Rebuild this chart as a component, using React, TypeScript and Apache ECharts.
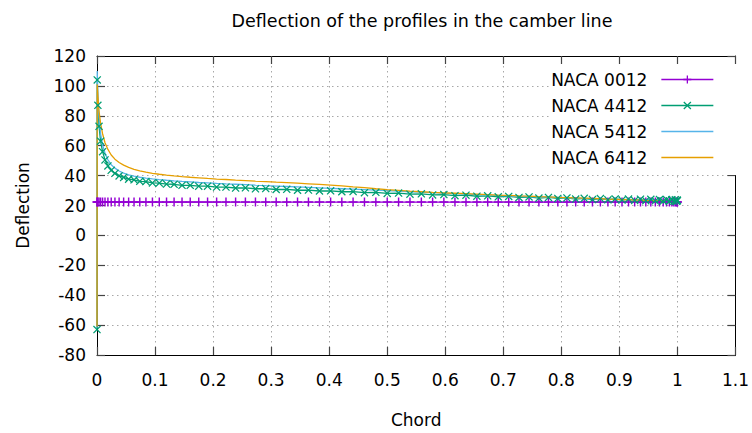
import React, { useEffect, useRef } from "react";
import * as echarts from "echarts";

// Chord positions along the camber line (0 = leading edge, 1 = trailing edge)
const chord = [
  0, 0.0004, 0.0015, 0.0035, 0.0062, 0.0096, 0.0138, 0.0188, 0.0245, 0.0309,
  0.0381, 0.0459, 0.0545, 0.0638, 0.0737, 0.0843, 0.0955, 0.1073, 0.1198, 0.1328,
  0.1465, 0.1606, 0.1753, 0.1905, 0.2061, 0.2222, 0.2388, 0.2557, 0.273, 0.2907,
  0.3087, 0.3269, 0.3455, 0.3643, 0.3833, 0.4025, 0.4218, 0.4412, 0.4608, 0.4804,
  0.5, 0.5196, 0.5392, 0.5588, 0.5782, 0.5976, 0.6167, 0.6357, 0.6545, 0.6731,
  0.6913, 0.7093, 0.727, 0.7443, 0.7613, 0.7778, 0.7939, 0.8096, 0.8247, 0.8394,
  0.8536, 0.8672, 0.8802, 0.8927, 0.9045, 0.9157, 0.9263, 0.9363, 0.9455, 0.9541,
  0.9619, 0.9691, 0.9755, 0.9812, 0.9862, 0.9904, 0.9938, 0.9965, 0.9985, 0.9996,
  1.0,
];

const naca0012 = [
  22.4, 22.4, 22.3, 22.3, 22.3, 22.3, 22.3, 22.3, 22.3, 22.3,
  22.3, 22.3, 22.3, 22.3, 22.3, 22.3, 22.3, 22.3, 22.3, 22.3,
  22.3, 22.3, 22.3, 22.3, 22.3, 22.3, 22.3, 22.3, 22.3, 22.3,
  22.3, 22.3, 22.3, 22.3, 22.3, 22.3, 22.3, 22.3, 22.3, 22.3,
  22.3, 22.3, 22.3, 22.3, 22.3, 22.3, 22.3, 22.3, 22.3, 22.3,
  22.3, 22.3, 22.3, 22.3, 22.3, 22.3, 22.3, 22.3, 22.3, 22.3,
  22.3, 22.3, 22.3, 22.3, 22.3, 22.3, 22.3, 22.3, 22.3, 22.3,
  22.3, 22.3, 22.3, 22.3, 22.3, 22.3, 22.3, 22.3, 22.3, 22.3,
  22.3,
];

const naca4412 = [
  -63, 104, 87, 73, 63, 56, 50.5, 46.5, 43.5, 41.5,
  39.8, 38.8, 37.6, 37.2, 36.2, 36.0, 35.1, 35.0, 34.3, 34.2,
  33.5, 33.5, 32.9, 32.9, 32.3, 32.3, 31.7, 31.8, 31.2, 31.3,
  30.7, 30.8, 30.2, 30.3, 29.7, 29.8, 29.2, 29.3, 28.6, 28.8,
  28.1, 28.3, 27.6, 27.8, 27.1, 27.3, 26.6, 26.9, 26.2, 26.5,
  25.8, 26.1, 25.4, 25.7, 25.0, 25.4, 24.7, 25.1, 24.3, 24.8,
  24.0, 24.6, 23.8, 24.4, 23.6, 24.3, 23.4, 24.2, 23.2, 24.1,
  23.1, 24.0, 23.0, 24.0, 22.9, 23.9, 22.9, 23.8, 22.9, 23.6,
  23.2,
];

const naca5412 = [
  -62, 110, 93, 79, 68, 60.5, 55, 50.6, 47.3, 45.0,
  43.1, 41.7, 40.5, 39.6, 38.9, 38.3, 37.8, 37.3, 36.9, 36.5,
  36.1, 35.8, 35.4, 35.1, 34.8, 34.5, 34.2, 33.9, 33.6, 33.3,
  33.0, 32.7, 32.4, 32.1, 31.8, 31.5, 31.2, 30.9, 30.6, 30.3,
  30.0, 29.6, 29.2, 28.9, 28.6, 28.3, 27.9, 27.6, 27.3, 27.0,
  26.8, 26.5, 26.2, 26.0, 25.8, 25.6, 25.4, 25.2, 25.0, 24.8,
  24.6, 24.5, 24.3, 24.2, 24.1, 23.9, 23.8, 23.7, 23.6, 23.5,
  23.4, 23.4, 23.3, 23.3, 23.2, 23.2, 23.1, 23.1, 23.1, 23.0,
  23.0,
];

const naca6412 = [
  -61, 101, 93, 83, 75, 68, 62, 57.5, 53.8, 51,
  48.8, 47, 45.5, 44.2, 43.2, 42.3, 41.5, 40.9, 40.3, 39.8,
  39.3, 38.9, 38.5, 38.1, 37.7, 37.4, 37.0, 36.7, 36.3, 36.0,
  35.6, 35.3, 34.9, 34.5, 34.1, 33.6, 33.1, 32.5, 31.9, 31.2,
  30.6, 30.1, 29.6, 29.2, 28.8, 28.5, 28.2, 27.9, 27.6, 27.3,
  27.0, 26.8, 26.5, 26.3, 26.0, 25.8, 25.5, 25.3, 25.1, 24.9,
  24.7, 24.5, 24.3, 24.1, 24.0, 23.8, 23.7, 23.6, 23.4, 23.3,
  23.2, 23.1, 23.0, 22.9, 22.8, 22.7, 22.7, 22.6, 22.6, 22.5,
  22.5,
];

const seriesNames = ["NACA 0012", "NACA 4412", "NACA 5412", "NACA 6412"];
const seriesColors = ["#9400d3", "#009e73", "#56b4e9", "#e69f00"];

const FONT = "DejaVu Sans";
const PLUS = "path://M4.2,0H5.8V4.2H10V5.8H5.8V10H4.2V5.8H0V4.2H4.2Z";
const CROSS =
  "path://M0,1.1L1.1,0L5,3.9L8.9,0L10,1.1L6.1,5L10,8.9L8.9,10L5,6.1L1.1,10L0,8.9L3.9,5Z";
// plain line sample for the series drawn without markers
const BAR = "path://M0,0H52V1.3H0Z";

const pairs = (ys: number[]) => chord.map((x, i) => [x, ys[i]]);

export default function App() {
  const ref = useRef<HTMLDivElement>(null);

  useEffect(() => {
    document.body.style.margin = "0";
    const chart = echarts.init(ref.current!, null, { renderer: "svg" });

    const gridLine = {
      show: true,
      lineStyle: { color: "#a8a8a8", width: 1, type: [1.5, 3.5] as any },
    };
    const axisLine = { show: true, onZero: false, lineStyle: { color: "#000", width: 1 } };
    const tick = { show: true, inside: true, length: 8, lineStyle: { color: "#444", width: 1.2 } };

    chart.setOption({
      animation: false,
      backgroundColor: "#fff",
      title: {
        text: "Deflection of the profiles in the camber line",
        left: 417,
        top: 7,
        textAlign: "center",
        textStyle: { fontFamily: FONT, fontSize: 17.5, fontWeight: "normal", color: "#000" },
      },
      legend: {
        orient: "vertical",
        align: "right",
        right: 14,
        top: 64,
        padding: [7, 24, 9, 2],
        backgroundColor: "#fff",
        itemWidth: 52,
        itemHeight: 10,
        itemGap: 9,
        symbolKeepAspect: true,
        lineStyle: { width: 1.3 },
        textStyle: {
          fontFamily: FONT,
          fontSize: 17,
          color: "#000",
          lineHeight: 16,
          padding: [0, 9, 0, 0],
        },
        data: [
          { name: seriesNames[0] },
          { name: seriesNames[1] },
          { name: seriesNames[2], icon: BAR },
          { name: seriesNames[3], icon: BAR },
        ],
      },
      grid: { left: 97, right: 12, top: 56, bottom: 72, containLabel: false },
      xAxis: [
        {
          type: "value",
          min: 0,
          max: 1.1,
          interval: 0.1,
          name: "Chord",
          nameLocation: "middle",
          nameGap: 56,
          nameTextStyle: { fontFamily: FONT, fontSize: 17, color: "#000" },
          axisLine,
          axisTick: tick,
          splitLine: gridLine,
          axisLabel: {
            margin: 16,
            fontFamily: FONT,
            fontSize: 17,
            color: "#000",
            formatter: (v: number) => String(parseFloat(v.toFixed(1))),
          },
        },
        {
          type: "value",
          position: "top",
          min: 0,
          max: 1.1,
          interval: 0.1,
          axisLine,
          axisTick: tick,
          axisLabel: { show: false },
          splitLine: { show: false },
        },
      ],
      yAxis: [
        {
          type: "value",
          min: -80,
          max: 120,
          interval: 20,
          name: "Deflection",
          nameLocation: "middle",
          nameGap: 66,
          nameTextStyle: { fontFamily: FONT, fontSize: 17, color: "#000" },
          axisLine,
          axisTick: tick,
          splitLine: gridLine,
          axisLabel: { margin: 11, fontFamily: FONT, fontSize: 17, color: "#000" },
        },
        {
          type: "value",
          position: "right",
          min: -80,
          max: 120,
          interval: 20,
          axisLine,
          axisTick: tick,
          axisLabel: { show: false },
          splitLine: { show: false },
        },
      ],
      series: [
        {
          name: seriesNames[0],
          type: "line",
          data: pairs(naca0012),
          symbol: PLUS,
          symbolSize: 9,
          color: seriesColors[0],
          lineStyle: { width: 1.3 },
          itemStyle: { color: seriesColors[0] },
        },
        {
          name: seriesNames[1],
          type: "line",
          data: pairs(naca4412),
          symbol: CROSS,
          symbolSize: 8,
          color: seriesColors[1],
          lineStyle: { width: 1.3 },
          itemStyle: { color: seriesColors[1] },
        },
        {
          name: seriesNames[2],
          type: "line",
          data: pairs(naca5412),
          symbol: "none",
          color: seriesColors[2],
          lineStyle: { width: 1.3 },
          itemStyle: { color: seriesColors[2] },
        },
        {
          name: seriesNames[3],
          type: "line",
          data: pairs(naca6412),
          symbol: "none",
          color: seriesColors[3],
          lineStyle: { width: 1.3 },
          itemStyle: { color: seriesColors[3] },
        },
      ],
    });

    return () => chart.dispose();
  }, []);

  return <div ref={ref} style={{ width: 752, height: 433 }} />;
}
